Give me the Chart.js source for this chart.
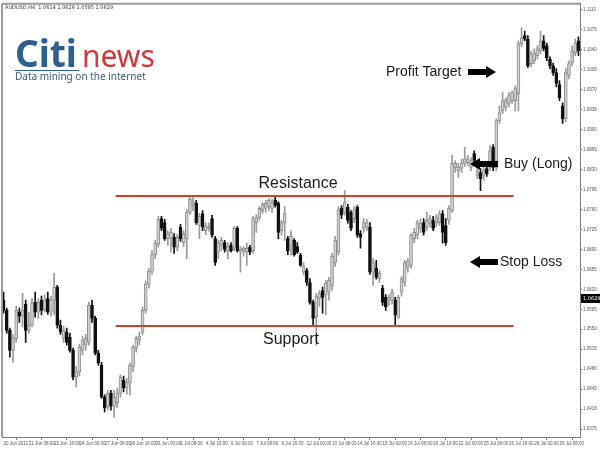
<!DOCTYPE html>
<html>
<head>
<meta charset="utf-8">
<script src="https://cdn.jsdelivr.net/npm/chart.js@4.4.0/dist/chart.umd.min.js"></script>
<style>
  html, body { margin: 0; padding: 0; background: #fff; }
</style>
</head>
<body>
<canvas id="chart" width="600" height="449"></canvas>
<script>
// AUDUSD H4, 20 Jun - 1 Aug 2011
const opens = [
  1.0601, 1.0583, 1.0548, 1.0513, 1.0534, 1.0580, 1.0573, 1.0594, 1.0548, 1.0557,
  1.0597, 1.0580, 1.0601, 1.0583, 1.0604, 1.0580, 1.0601, 1.0624, 1.0557, 1.0534,
  1.0545, 1.0536, 1.0513, 1.0466, 1.0475, 1.0513, 1.0522, 1.0527, 1.0592, 1.0569,
  1.0508, 1.0487, 1.0431, 1.0414, 1.0438, 1.0415, 1.0421, 1.0438, 1.0461, 1.0447,
  1.0456, 1.0484, 1.0517, 1.0531, 1.0545, 1.0583, 1.0629, 1.0652, 1.0681, 1.0699,
  1.0744, 1.0737, 1.0709, 1.0709, 1.0711, 1.0694, 1.0729, 1.0702, 1.0709, 1.0755,
  1.0769, 1.0771, 1.0732, 1.0753, 1.0723, 1.0727, 1.0744, 1.0709, 1.0685, 1.0697,
  1.0702, 1.0688, 1.0697, 1.0692, 1.0727, 1.0685, 1.0687, 1.0685, 1.0694, 1.0688,
  1.0737, 1.0746, 1.0758, 1.0762, 1.0765, 1.0762, 1.0776, 1.0771, 1.0723, 1.0737,
  1.0709, 1.0697, 1.0706, 1.0695, 1.0680, 1.0650, 1.0653, 1.0632, 1.0597, 1.0571,
  1.0604, 1.0618, 1.0610, 1.0615, 1.0627, 1.0667, 1.0685, 1.0762, 1.0755, 1.0764,
  1.0755, 1.0744, 1.0764, 1.0718, 1.0727, 1.0729, 1.0729, 1.0650, 1.0657, 1.0639,
  1.0622, 1.0606, 1.0601, 1.0601, 1.0601, 1.0571, 1.0615, 1.0632, 1.0659, 1.0662,
  1.0709, 1.0715, 1.0727, 1.0737, 1.0729, 1.0736, 1.0741, 1.0736, 1.0737, 1.0753,
  1.0732, 1.0741, 1.0758, 1.0834, 1.0828, 1.0832, 1.0841, 1.0842, 1.0834, 1.0858,
  1.0820, 1.0825, 1.0820, 1.0832, 1.0834, 1.0869, 1.0834, 1.0916, 1.0933, 1.0939,
  1.0946, 1.0951, 1.0951, 1.0963, 1.1051, 1.1065, 1.1059, 1.1016, 1.1021, 1.1030,
  1.1038, 1.1056, 1.1047, 1.1024, 1.1012, 1.1000, 1.0979, 1.0942, 1.0919, 1.0995,
  1.1017, 1.1035, 1.1056
];
const highs = [
  1.0615, 1.0587, 1.0552, 1.0540, 1.0590, 1.0587, 1.0613, 1.0601, 1.0580, 1.0604,
  1.0615, 1.0604, 1.0608, 1.0611, 1.0615, 1.0608, 1.0648, 1.0627, 1.0566, 1.0555,
  1.0552, 1.0543, 1.0517, 1.0485, 1.0524, 1.0538, 1.0541, 1.0597, 1.0601, 1.0573,
  1.0513, 1.0492, 1.0435, 1.0443, 1.0443, 1.0443, 1.0447, 1.0470, 1.0468, 1.0464,
  1.0491, 1.0522, 1.0538, 1.0545, 1.0589, 1.0634, 1.0657, 1.0688, 1.0706, 1.0748,
  1.0748, 1.0743, 1.0723, 1.0727, 1.0718, 1.0716, 1.0734, 1.0723, 1.0760, 1.0785,
  1.0781, 1.0776, 1.0753, 1.0758, 1.0737, 1.0736, 1.0750, 1.0713, 1.0706, 1.0711,
  1.0706, 1.0702, 1.0702, 1.0730, 1.0730, 1.0695, 1.0695, 1.0701, 1.0697, 1.0748,
  1.0751, 1.0765, 1.0772, 1.0776, 1.0779, 1.0778, 1.0783, 1.0774, 1.0741, 1.0765,
  1.0713, 1.0723, 1.0709, 1.0702, 1.0683, 1.0667, 1.0657, 1.0639, 1.0601, 1.0613,
  1.0618, 1.0624, 1.0636, 1.0641, 1.0683, 1.0713, 1.0765, 1.0767, 1.0793, 1.0769,
  1.0758, 1.0765, 1.0767, 1.0723, 1.0744, 1.0743, 1.0737, 1.0674, 1.0671, 1.0653,
  1.0627, 1.0611, 1.0611, 1.0620, 1.0606, 1.0610, 1.0643, 1.0671, 1.0674, 1.0718,
  1.0727, 1.0741, 1.0744, 1.0744, 1.0755, 1.0750, 1.0748, 1.0751, 1.0758, 1.0758,
  1.0744, 1.0767, 1.0855, 1.0846, 1.0841, 1.0849, 1.0869, 1.0855, 1.0851, 1.0863,
  1.0835, 1.0832, 1.0837, 1.0842, 1.0872, 1.0874, 1.0919, 1.0942, 1.0965, 1.0956,
  1.0965, 1.0968, 1.0977, 1.1056, 1.1079, 1.1073, 1.1065, 1.1038, 1.1042, 1.1047,
  1.1073, 1.1065, 1.1052, 1.1028, 1.1017, 1.1007, 1.0986, 1.0947, 1.1007, 1.1021,
  1.1047, 1.1059, 1.1063
];
const lows = [
  1.0578, 1.0543, 1.0501, 1.0492, 1.0527, 1.0562, 1.0554, 1.0527, 1.0543, 1.0554,
  1.0571, 1.0569, 1.0575, 1.0580, 1.0576, 1.0573, 1.0576, 1.0552, 1.0541, 1.0527,
  1.0522, 1.0510, 1.0461, 1.0449, 1.0468, 1.0505, 1.0513, 1.0522, 1.0562, 1.0505,
  1.0487, 1.0429, 1.0405, 1.0408, 1.0408, 1.0396, 1.0412, 1.0431, 1.0440, 1.0436,
  1.0435, 1.0475, 1.0510, 1.0522, 1.0540, 1.0578, 1.0622, 1.0646, 1.0674, 1.0694,
  1.0723, 1.0706, 1.0697, 1.0685, 1.0683, 1.0688, 1.0704, 1.0695, 1.0674, 1.0751,
  1.0758, 1.0734, 1.0709, 1.0723, 1.0716, 1.0722, 1.0711, 1.0662, 1.0674, 1.0688,
  1.0685, 1.0674, 1.0685, 1.0688, 1.0685, 1.0650, 1.0678, 1.0662, 1.0681, 1.0683,
  1.0720, 1.0741, 1.0753, 1.0755, 1.0758, 1.0755, 1.0764, 1.0709, 1.0715, 1.0706,
  1.0681, 1.0680, 1.0678, 1.0683, 1.0660, 1.0645, 1.0627, 1.0594, 1.0555, 1.0522,
  1.0590, 1.0578, 1.0575, 1.0601, 1.0618, 1.0660, 1.0680, 1.0744, 1.0750, 1.0736,
  1.0723, 1.0737, 1.0711, 1.0692, 1.0720, 1.0723, 1.0646, 1.0627, 1.0638, 1.0632,
  1.0592, 1.0583, 1.0592, 1.0594, 1.0555, 1.0569, 1.0608, 1.0625, 1.0650, 1.0657,
  1.0702, 1.0709, 1.0720, 1.0715, 1.0723, 1.0729, 1.0723, 1.0730, 1.0732, 1.0701,
  1.0697, 1.0734, 1.0755, 1.0825, 1.0816, 1.0825, 1.0835, 1.0837, 1.0828, 1.0842,
  1.0814, 1.0793, 1.0811, 1.0818, 1.0828, 1.0828, 1.0828, 1.0911, 1.0928, 1.0933,
  1.0940, 1.0946, 1.0933, 1.0933, 1.1045, 1.1056, 1.1009, 1.1010, 1.1016, 1.1024,
  1.1033, 1.1038, 1.1021, 1.1007, 1.0995, 1.0975, 1.0951, 1.0911, 1.0914, 1.0989,
  1.1012, 1.1030, 1.1030
];
const closes = [
  1.0583, 1.0548, 1.0513, 1.0534, 1.0583, 1.0573, 1.0583, 1.0548, 1.0557, 1.0596,
  1.0580, 1.0597, 1.0583, 1.0601, 1.0580, 1.0601, 1.0624, 1.0557, 1.0545, 1.0548,
  1.0527, 1.0513, 1.0466, 1.0475, 1.0519, 1.0531, 1.0534, 1.0592, 1.0569, 1.0508,
  1.0491, 1.0431, 1.0412, 1.0438, 1.0415, 1.0431, 1.0438, 1.0466, 1.0447, 1.0457,
  1.0487, 1.0519, 1.0534, 1.0538, 1.0583, 1.0629, 1.0652, 1.0681, 1.0701, 1.0743,
  1.0727, 1.0709, 1.0718, 1.0720, 1.0694, 1.0711, 1.0709, 1.0718, 1.0755, 1.0778,
  1.0774, 1.0737, 1.0748, 1.0729, 1.0732, 1.0730, 1.0715, 1.0667, 1.0702, 1.0706,
  1.0690, 1.0695, 1.0688, 1.0727, 1.0688, 1.0690, 1.0692, 1.0692, 1.0685, 1.0744,
  1.0746, 1.0762, 1.0769, 1.0771, 1.0776, 1.0772, 1.0767, 1.0720, 1.0737, 1.0753,
  1.0688, 1.0713, 1.0681, 1.0685, 1.0662, 1.0660, 1.0632, 1.0597, 1.0569, 1.0608,
  1.0613, 1.0606, 1.0631, 1.0636, 1.0678, 1.0706, 1.0760, 1.0750, 1.0772, 1.0741,
  1.0727, 1.0760, 1.0715, 1.0711, 1.0737, 1.0737, 1.0650, 1.0667, 1.0641, 1.0648,
  1.0597, 1.0589, 1.0606, 1.0615, 1.0575, 1.0606, 1.0639, 1.0667, 1.0669, 1.0715,
  1.0720, 1.0737, 1.0736, 1.0720, 1.0741, 1.0744, 1.0727, 1.0746, 1.0753, 1.0720,
  1.0702, 1.0762, 1.0841, 1.0841, 1.0834, 1.0842, 1.0849, 1.0849, 1.0846, 1.0846,
  1.0828, 1.0814, 1.0828, 1.0823, 1.0863, 1.0834, 1.0916, 1.0930, 1.0951, 1.0951,
  1.0960, 1.0965, 1.0972, 1.1051, 1.1061, 1.1059, 1.1012, 1.1033, 1.1035, 1.1042,
  1.1056, 1.1042, 1.1026, 1.1012, 1.1000, 1.0981, 1.0956, 1.0919, 1.1000, 1.1016,
  1.1038, 1.1052, 1.1038
];

// one label every 8 bars
const xTickLabels = [
  "20 Jun 2011", "21 Jun 08:00", "22 Jun 16:00", "24 Jun 00:00", "27 Jun 08:00",
  "28 Jun 16:00", "30 Jun 00:00", "1 Jul 08:00", "4 Jul 16:00", "6 Jul 00:00",
  "7 Jul 08:00", "8 Jul 16:00", "12 Jul 00:00", "13 Jul 08:00", "14 Jul 16:00",
  "18 Jul 00:00", "19 Jul 08:00", "20 Jul 16:00", "22 Jul 00:00", "25 Jul 08:00",
  "26 Jul 16:00", "28 Jul 00:00", "29 Jul 08:00"
];
const yTicks = [
  1.1110, 1.1075, 1.1040, 1.1005, 1.0970, 1.0935, 1.0900, 1.0865, 1.0830, 1.0795, 1.0760,
  1.0725, 1.0690, 1.0655, 1.0620, 1.0585, 1.0550, 1.0515, 1.0480, 1.0445, 1.0410, 1.0375
];

const levelNames = ["Resistance", "Support"];
const levelValues = [1.0783, 1.0555];
const levelSpan = [35.5, 161.5];   // bar index range of the two lines
const headerText = "AUDUSD,H4  1.0614 1.0626 1.0595 1.0629";
const lastPrice = { level: 1.0604, text: "1.0629" };

const bullFill = "#d2d2d2";
const bullLine = "#8c8c8c";
const bearFill = "#111111";
const red = "#d4412f";
const logoBlue = "#2f5f8f";
const logoRed = "#d3363d";

const isBull = closes.map((c, i) => c >= opens[i]);

function drawArrow(ctx, tail, head, yMid) {
  const dir = head > tail ? 1 : -1;
  const headLen = 10;
  const base = head - dir * headLen;
  ctx.beginPath();
  ctx.moveTo(tail, yMid - 3);
  ctx.lineTo(base, yMid - 3);
  ctx.lineTo(base, yMid - 6);
  ctx.lineTo(head, yMid);
  ctx.lineTo(base, yMid + 6);
  ctx.lineTo(base, yMid + 3);
  ctx.lineTo(tail, yMid + 3);
  ctx.closePath();
  ctx.fill();
}

const overlay = {
  id: "overlay",
  afterDatasetsDraw(chart) {
    const { ctx, chartArea: a, scales } = chart;
    const x = scales.x, y = scales.y;
    ctx.save();

    // top / left frame
    ctx.strokeStyle = "#9c9c9c";
    ctx.lineWidth = 2;
    ctx.beginPath();
    ctx.moveTo(a.left, a.top);
    ctx.lineTo(a.right, a.top);
    ctx.moveTo(a.left, a.top);
    ctx.lineTo(a.left, a.bottom);
    ctx.stroke();

    // support / resistance
    ctx.strokeStyle = red;
    ctx.lineWidth = 2;
    levelValues.forEach(v => {
      const py = Math.round(y.getPixelForValue(v));
      ctx.beginPath();
      ctx.moveTo(x.getPixelForValue(levelSpan[0]), py);
      ctx.lineTo(x.getPixelForValue(levelSpan[1]), py);
      ctx.stroke();
    });

    // labels
    ctx.fillStyle = "#1a1a1a";
    ctx.textBaseline = "middle";
    ctx.font = '16px "Liberation Sans"';
    ctx.textAlign = "center";
    ctx.fillText(levelNames[0], 298, 184);
    ctx.fillText(levelNames[1], 291, 340);

    ctx.font = '14px "Liberation Sans"';
    ctx.textAlign = "left";
    ctx.fillText("Profit Target", 386, 72);
    ctx.fillText("Buy (Long)", 504, 164);
    ctx.fillText("Stop Loss", 500, 262);

    ctx.fillStyle = "#000";
    drawArrow(ctx, 468, 496, 72);
    drawArrow(ctx, 498, 470, 164);
    drawArrow(ctx, 498, 470, 262);

    ctx.restore();
  },
  afterDraw(chart) {
    const { ctx, scales } = chart;
    ctx.save();

    // header line
    ctx.fillStyle = "#333";
    ctx.font = '5px "DejaVu Sans"';
    ctx.textBaseline = "middle";
    ctx.textAlign = "left";
    ctx.fillText(headerText, 5, 8);

    // current price tag
    const py = scales.y.getPixelForValue(lastPrice.level);
    ctx.fillStyle = "#000";
    ctx.fillRect(581, py - 4.5, 19, 9);
    ctx.fillStyle = "#fff";
    ctx.fillText(lastPrice.text, 583, py);

    // logo
    ctx.textBaseline = "alphabetic";
    ctx.fillStyle = logoBlue;
    ctx.font = 'bold 37px "Noto Sans"';
    ctx.fillText("Citi", 15, 67);
    ctx.fillStyle = logoRed;
    ctx.font = '30px "Noto Sans"';
    ctx.fillText("news", 82, 67);
    ctx.fillStyle = logoBlue;
    ctx.fillRect(15, 70, 64, 1);
    ctx.fillStyle = "#3d5d7d";
    ctx.font = '10px "Noto Sans"';
    ctx.fillText("Data mining on the internet", 15, 80);

    ctx.restore();
  }
};

new Chart(document.getElementById("chart"), {
  type: "bar",
  data: {
    labels: opens.map((_, i) => i),
    datasets: [
      {
        label: "body",
        data: opens.map((o, i) => [o, closes[i]]),
        backgroundColor: isBull.map(b => b ? bullFill : bearFill),
        borderColor: isBull.map(b => b ? bullLine : bearFill),
        borderWidth: 1,
        borderSkipped: false,
        barThickness: 3,
        minBarLength: 1,
        grouped: false,
        order: 0
      },
      {
        label: "wick",
        data: lows.map((l, i) => [l, highs[i]]),
        backgroundColor: isBull.map(b => b ? "#9a9a9a" : bearFill),
        borderWidth: 0,
        barThickness: 1,
        grouped: false,
        order: 1
      }
    ]
  },
  options: {
    responsive: false,
    animation: false,
    layout: { padding: { left: 2, top: 3, right: 0, bottom: 0 } },
    plugins: {
      legend: { display: false },
      tooltip: { enabled: false }
    },
    scales: {
      x: {
        afterFit: s => { s.height = 12; },
        border: { display: true, color: "#7c7c7c", width: 1 },
        grid: { drawOnChartArea: false, drawTicks: true, tickLength: 3, color: "#7c7c7c" },
        ticks: {
          autoSkip: false,
          maxRotation: 0,
          align: "start",
          padding: 1,
          color: "#555",
          font: { family: "Liberation Sans", size: 4.5 },
          callback: v => (v % 8 === 0 ? xTickLabels[v / 8] : null)
        }
      },
      y: {
        position: "right",
        min: 1.0361,
        max: 1.1121,
        afterFit: s => { s.width = 20; },
        afterBuildTicks: s => { s.ticks = yTicks.map(v => ({ value: v })); },
        border: { display: true, color: "#7c7c7c", width: 1 },
        grid: { drawOnChartArea: false, drawTicks: true, tickLength: 2, color: "#7c7c7c" },
        ticks: {
          padding: 1,
          color: "#555",
          font: { family: "Liberation Sans", size: 4.5 },
          callback: v => v.toFixed(4)
        }
      }
    }
  },
  plugins: [overlay]
});
</script>
</body>
</html>
